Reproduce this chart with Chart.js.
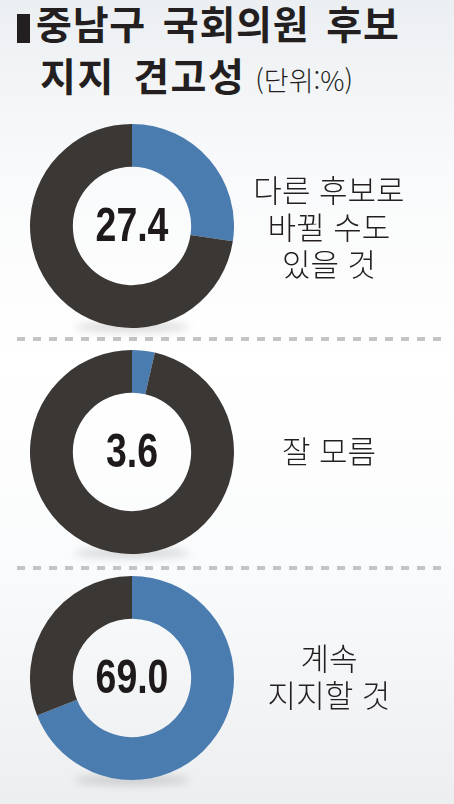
<!DOCTYPE html>
<html lang="ko">
<head>
<meta charset="utf-8">
<script src="https://cdn.jsdelivr.net/npm/chart.js"></script>
<style>
  html, body { margin:0; padding:0; }
  body {
    width:454px; height:804px; position:relative; overflow:hidden;
    background: linear-gradient(#eceff2 0%, #f9fafb 22%, #ffffff 45%, #fafbfc 70%, #eceef0 100%);
    font-family: "Noto Sans CJK KR", "Noto Sans", sans-serif; color:#231f20;
  }
  .bar { position:absolute; left:17px; top:14px; width:13px; height:29px; background:#231f20; }
  .t1 { position:absolute; left:36px; top:-6px; font-size:39px; font-weight:700; word-spacing:5px; letter-spacing:0.8px; white-space:nowrap; }
  .t2 { position:absolute; left:40px; top:46px; font-size:39px; font-weight:700; word-spacing:6px; letter-spacing:1.5px; white-space:nowrap; }
  .unit { font-size:27px; font-weight:300; margin-left:10px; letter-spacing:0; }
  .dash { position:absolute; left:17px; width:428px; height:4px;
    background: repeating-linear-gradient(90deg, #c4c4c4 0 8px, transparent 8px 16px); }
  .donut { position:absolute; left:30px; width:204px; height:204px; }
  .shadow { position:absolute; left:75px; width:114px; height:10px; border-radius:50%;
    background: rgba(0,0,0,0.15); filter: blur(4px); }
  .lab { position:absolute; left:214px; width:230px; text-align:center; font-size:31px; line-height:37px; font-weight:300; color:#231f20; }
</style>
</head>
<body>
<div class="bar"></div>
<div class="t1">중남구 국회의원 후보</div>
<div class="t2">지지 견고성<span class="unit">(단위:%)</span></div>

<div class="dash" style="top:337px"></div>
<div class="dash" style="top:566px"></div>

<div class="shadow" style="top:322px"></div>
<div class="shadow" style="top:548px"></div>
<div class="shadow" style="top:775px"></div>

<div class="donut" style="top:124px"><canvas id="c0"></canvas></div>
<div class="donut" style="top:350px"><canvas id="c1"></canvas></div>
<div class="donut" style="top:576px"><canvas id="c2"></canvas></div>

<div class="lab" id="l0" style="top:170px"></div>
<div class="lab" id="l1" style="top:431px"></div>
<div class="lab" id="l2" style="top:638px"></div>

<script>
const categories = ["다른 후보로\n바뀔 수도\n있을 것", "잘 모름", "계속\n지지할 것"];
const values = [27.4, 3.6, 69.0];
const remainder = [72.6, 96.4, 31.0];
const unitLabel = "(단위:%)";

const BLUE = "#4a7cb0";
const DARK = "#3b3735";

const centerText = {
  id: "centerText",
  afterDraw(chart) {
    const v = chart.data.datasets[0].data[0];
    const meta = chart.getDatasetMeta(0).data[0];
    const ctx = chart.ctx;
    ctx.save();
    ctx.translate(meta.x, meta.y + 2);
    ctx.scale(0.78, 1);
    ctx.font = 'bold 48px "Liberation Sans", "DejaVu Sans", sans-serif';
    ctx.fillStyle = "#1e1a1b";
    ctx.textAlign = "center";
    ctx.textBaseline = "middle";
    ctx.fillText(v.toFixed(1), 0, 0);
    ctx.restore();
  }
};

values.forEach((v, i) => {
  document.getElementById("l" + i).innerHTML = categories[i].split("\n").join("<br>");
  new Chart(document.getElementById("c" + i), {
    type: "doughnut",
    data: {
      labels: ["value", "rest"],
      datasets: [{
        data: [v, remainder[i]],
        backgroundColor: [BLUE, DARK],
        borderWidth: 0
      }]
    },
    options: {
      responsive: true,
      maintainAspectRatio: false,
      animation: false,
      cutout: "58%",
      layout: { padding: 0 },
      plugins: { legend: { display: false }, tooltip: { enabled: false } }
    },
    plugins: [centerText]
  });
});
</script>
</body>
</html>
